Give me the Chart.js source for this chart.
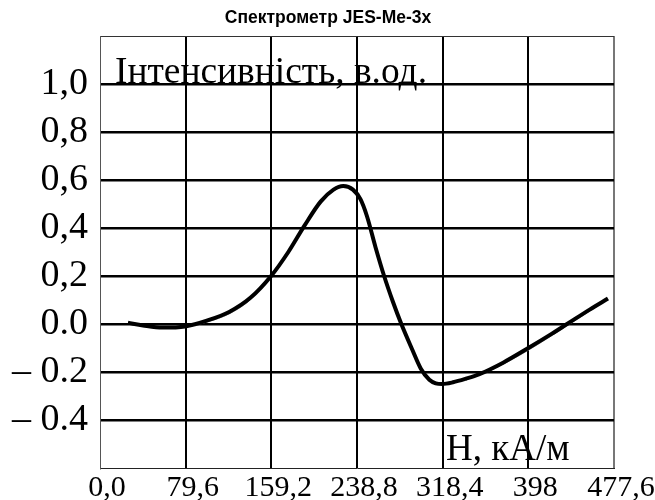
<!DOCTYPE html>
<html>
<head>
<meta charset="utf-8">
<script src="https://cdn.jsdelivr.net/npm/chart.js@4.4.1/dist/chart.umd.min.js"></script>
<style>
  html, body { margin: 0; padding: 0; background: #fff; }
  #wrap { width: 655px; height: 500px; }
</style>
</head>
<body>
<div id="wrap"><canvas id="spectrum"></canvas></div>
<script>
// Field axis, kA/m
const fieldTicks = [0, 79.6, 159.2, 238.8, 318.4, 398, 477.6];
const fieldTickLabels = ["0,0", "79,6", "159,2", "238,8", "318,4", "398", "477,6"];

// Intensity axis, a.u. (edges -0.6 and 1.2 carry no label)
const intensityTicks = [-0.6, -0.4, -0.2, 0.0, 0.2, 0.4, 0.6, 0.8, 1.0, 1.2];
const intensityTickLabels = ["", "– 0.4", "– 0.2", "0.0", "0,2", "0,4", "0,6", "0,8", "1,0", ""];

// measured spectrum
const measuredH = [26, 40, 58, 79, 100, 120, 140, 159, 175, 190, 205, 217, 226, 235, 242, 248,
                   256, 264, 272, 280, 290, 298, 306, 312, 318, 328, 340, 352, 375, 398, 420, 434, 455, 472];
const measuredI = [0.005, -0.006, -0.015, -0.01, 0.015, 0.05, 0.11, 0.2, 0.3, 0.41, 0.51, 0.56, 0.575, 0.56, 0.52, 0.45,
                   0.32, 0.2, 0.095, 0.0, -0.105, -0.185, -0.232, -0.247, -0.25, -0.243, -0.228, -0.21, -0.16, -0.1, -0.04, 0.0, 0.06, 0.106];

// fitted spectrum
const fittedH = [26, 58, 79, 100, 120, 140, 159, 175, 190, 205, 217, 226, 235, 242, 248,
                 256, 264, 280, 298, 310, 320, 340, 360, 380, 400, 420, 440, 472];
const fittedI = [0.004, -0.017, -0.013, 0.009, 0.042, 0.102, 0.2, 0.297, 0.405, 0.505, 0.555, 0.57, 0.555, 0.515, 0.446,
                 0.318, 0.199, 0.0, -0.185, -0.241, -0.25, -0.231, -0.199, -0.155, -0.104, -0.048, 0.01, 0.103];

function toPoints(xs, ys) {
    return xs.map((x, i) => ({ x: x, y: ys[i] }));
}

function labelFor(ticks, labels, value) {
    const i = ticks.findIndex(t => Math.abs(t - value) < 1e-6);
    return i < 0 ? "" : labels[i];
}

function isEdge(value) {
    return Math.abs(value + 0.6) < 1e-6 || Math.abs(value - 1.2) < 1e-6;
}

const captions = {
    id: "captions",
    afterDraw(chart) {
        const ctx = chart.ctx;
        ctx.save();
        ctx.fillStyle = "#000";
        ctx.textBaseline = "alphabetic";

        ctx.textAlign = "center";
        ctx.font = 'bold 17.5px "Liberation Sans"';
        ctx.fillText("Спектрометр JES-Me-3x", 328, 23);

        ctx.textAlign = "left";
        ctx.font = '38px "Liberation Serif"';
        ctx.fillText("Інтенсивність, в.од.", 115, 83, 312);

        ctx.font = '37px "Liberation Serif"';
        ctx.fillText("H, кА/м", 446, 460, 125);
        ctx.restore();
    }
};

new Chart(document.getElementById("spectrum").getContext("2d"), {
    type: "line",
    data: {
        // dataset 0 is painted last, so the thick measured line sits on top of the thin fit
        datasets: [{
            label: "measured",
            data: toPoints(measuredH, measuredI),
            borderColor: "#000",
            borderWidth: 4,
            pointRadius: 0,
            cubicInterpolationMode: "monotone",
            fill: false
        }, {
            label: "fit",
            data: toPoints(fittedH, fittedI),
            borderColor: "#888",
            borderWidth: 1,
            pointRadius: 0,
            cubicInterpolationMode: "monotone",
            fill: false
        }]
    },
    options: {
        responsive: true,
        maintainAspectRatio: false,
        animation: false,
        layout: { padding: { top: 36, right: 41, left: 0, bottom: 0 } },
        plugins: {
            legend: { display: false },
            tooltip: { enabled: false },
            title: { display: false }
        },
        scales: {
            x: {
                type: "linear",
                min: 0,
                max: 477.6,
                afterBuildTicks: scale => { scale.ticks = fieldTicks.map(v => ({ value: v })); },
                afterFit: scale => { scale.height = 32; },
                ticks: {
                    color: "#000",
                    font: { family: '"Liberation Serif"', size: 30 },
                    padding: 2,
                    labelOffset: 7,
                    maxRotation: 0,
                    autoSkip: false,
                    callback: v => labelFor(fieldTicks, fieldTickLabels, v)
                },
                grid: {
                    drawTicks: false,
                    color: ctx => {
                        const v = ctx.tick ? ctx.tick.value : 0;
                        if (v === 0) return "rgba(0,0,0,0)";
                        if (v === 477.6) return "#777";
                        return "#000";
                    },
                    lineWidth: 2
                },
                border: { display: true, color: "#222", width: 1 }
            },
            y: {
                type: "linear",
                min: -0.6,
                max: 1.2,
                afterBuildTicks: scale => { scale.ticks = intensityTicks.map(v => ({ value: v })); },
                afterFit: scale => { scale.width = 100; },
                ticks: {
                    color: "#000",
                    // the unlabelled edge ticks get a small font so they do not pad the plot area
                    font: ctx => ({
                        family: '"Liberation Serif"',
                        size: ctx.tick && isEdge(ctx.tick.value) ? 8 : 38
                    }),
                    padding: 12,
                    autoSkip: false,
                    callback: v => labelFor(intensityTicks, intensityTickLabels, v)
                },
                grid: {
                    drawTicks: false,
                    color: ctx => {
                        const v = ctx.tick ? ctx.tick.value : 0;
                        if (Math.abs(v + 0.6) < 1e-6) return "rgba(0,0,0,0)";
                        if (Math.abs(v - 1.2) < 1e-6) return "#333";
                        return "#000";
                    },
                    lineWidth: ctx => {
                        const v = ctx.tick ? ctx.tick.value : 0;
                        return Math.abs(v - 1.2) < 1e-6 ? 1 : 2.5;
                    }
                },
                border: { display: true, color: "#555", width: 1 }
            }
        }
    },
    plugins: [captions]
});
</script>
</body>
</html>
